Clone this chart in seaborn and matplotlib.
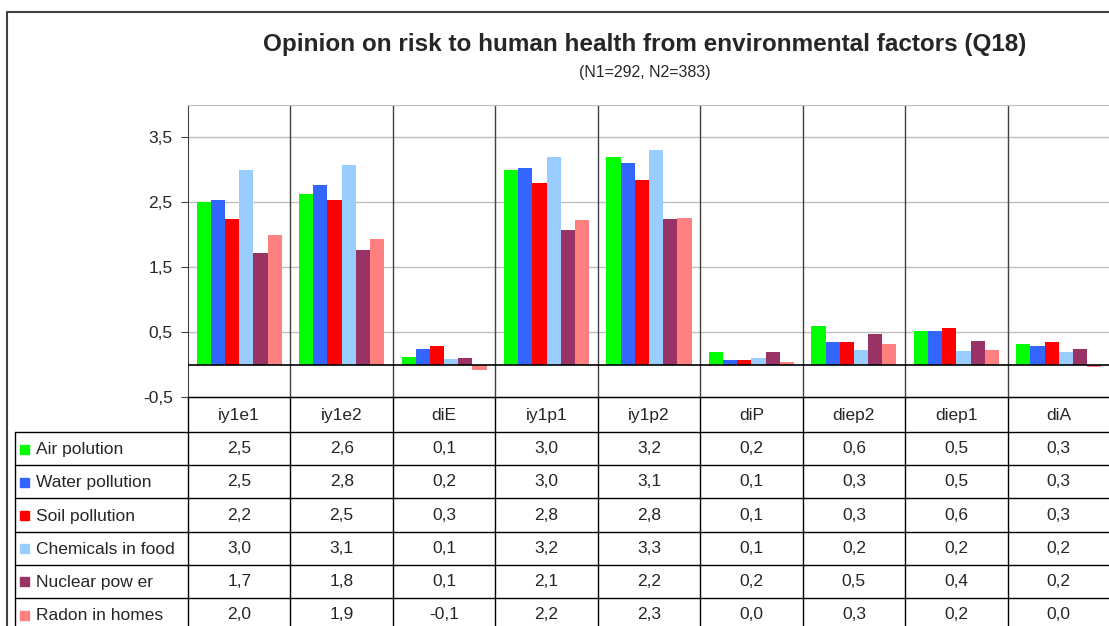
import pandas as pd
import matplotlib.pyplot as plt
import seaborn as sns

categories = ["iy1e1", "iy1e2", "diE", "iy1p1", "iy1p2", "diP", "diep2", "diep1", "diA"]
factors = ["Air polution", "Water pollution", "Soil pollution",
           "Chemicals in food", "Nuclear pow er", "Radon in homes"]

air = [2.50, 2.63, 0.12, 3.00, 3.20, 0.19, 0.60, 0.52, 0.32]
water = [2.53, 2.76, 0.24, 3.03, 3.11, 0.07, 0.34, 0.52, 0.29]
soil = [2.24, 2.53, 0.29, 2.80, 2.84, 0.07, 0.34, 0.57, 0.34]
chemicals = [3.00, 3.07, 0.08, 3.20, 3.31, 0.10, 0.23, 0.21, 0.19]
nuclear = [1.72, 1.77, 0.10, 2.08, 2.24, 0.19, 0.47, 0.37, 0.24]
radon = [2.00, 1.94, -0.08, 2.23, 2.26, 0.045, 0.32, 0.22, -0.03]

series = [air, water, soil, chemicals, nuclear, radon]
colors = ["#00FF00", "#3366FF", "#FF0000", "#99CCFF", "#993366", "#FF8080"]
yticks = [-0.5, 0.5, 1.5, 2.5, 3.5]

rows = []
for name, vals in zip(factors, series):
    for cat, v in zip(categories, vals):
        rows.append({"category": cat, "factor": name, "value": v})
df = pd.DataFrame(rows)

sns.set_style("white")
plt.rcParams["font.family"] = ["Liberation Sans", "DejaVu Sans"]

W, H = 1109, 626
fig = plt.figure(figsize=(W / 100, H / 100), dpi=100)

# layout in pixels
pl, pr, pt, pb = 188, 1110, 105, 397
col_w = (pr - pl) / len(categories)
tab_left = 15
head_bot = 432
row_h = 33.2

ax = fig.add_axes([pl / W, 1 - pb / H, (pr - pl) / W, (pb - pt) / H])
sns.barplot(data=df, x="category", y="value", hue="factor", palette=colors,
            width=0.83, saturation=1, linewidth=0, legend=False, ax=ax)
ax.set_xlim(-0.5, len(categories) - 0.5)
ax.set_ylim(-0.5, 4.0)
ax.set_yticks(yticks)
ax.set_yticklabels([f"{t:.1f}".replace(".", ",") for t in yticks], fontsize=12.5)
ax.set_xticks([])
ax.set_xlabel("")
ax.set_ylabel("")
ax.tick_params(axis="y", length=5, width=0.8, color="#404040", pad=6, left=True)
for t in yticks[1:]:
    ax.axhline(t, color="#c0c0c0", lw=1, zorder=0)
ax.axhline(0, color="black", lw=1.2, zorder=3)
for s in ["top", "right"]:
    ax.spines[s].set_color("#c0c0c0")
ax.spines["left"].set_color("#404040")
ax.spines["bottom"].set_color("black")
for i in range(1, len(categories)):
    ax.axvline(i - 0.5, color="#404040", lw=1, zorder=0)

# overlay in pixel coordinates for the data table and frame
ov = fig.add_axes([0, 0, 1, 1])
ov.set_xlim(0, W)
ov.set_ylim(H, 0)
ov.axis("off")
ov.patch.set_alpha(0)

# frame
ov.plot([7, 7, W + 5], [H + 5, 12, 12], color="#404040", lw=1.5)

# table lines
for i in range(len(categories) + 1):
    x = pl + i * col_w
    ov.plot([x, x], [pb, H + 5], color="black", lw=1)
ov.plot([tab_left, tab_left], [head_bot, H + 5], color="black", lw=1)
ov.plot([pl, W + 5], [pb, pb], color="black", lw=1)
for r in range(len(factors)):
    y = head_bot + r * row_h
    ov.plot([tab_left, W + 5], [y, y], color="black", lw=1)

for i, cat in enumerate(categories):
    ov.text(pl + (i + 0.5) * col_w, (pb + head_bot) / 2 + 1, cat,
            ha="center", va="center", fontsize=12.5)

for r, (name, vals, c) in enumerate(zip(factors, series, colors)):
    yc = head_bot + (r + 0.5) * row_h
    ov.add_patch(plt.Rectangle((20, yc - 4), 9, 9, color=c))
    ov.text(36, yc + 1, name, ha="left", va="center", fontsize=12.5)
    for i, v in enumerate(vals):
        s = f"{v:.1f}"
        if s == "-0.0":
            s = "0.0"
        ov.text(pl + (i + 0.5) * col_w, yc, s.replace(".", ","),
                ha="center", va="center", fontsize=12.5)

fig.text(645 / W, 1 - 45 / H, "Opinion on risk to human health from environmental factors (Q18)",
         ha="center", va="center", fontsize=17.5, fontweight="bold")
fig.text(645 / W, 1 - 72 / H, "(N1=292, N2=383)", ha="center", va="center", fontsize=11.5)

fig.savefig("out.png", dpi=100)
